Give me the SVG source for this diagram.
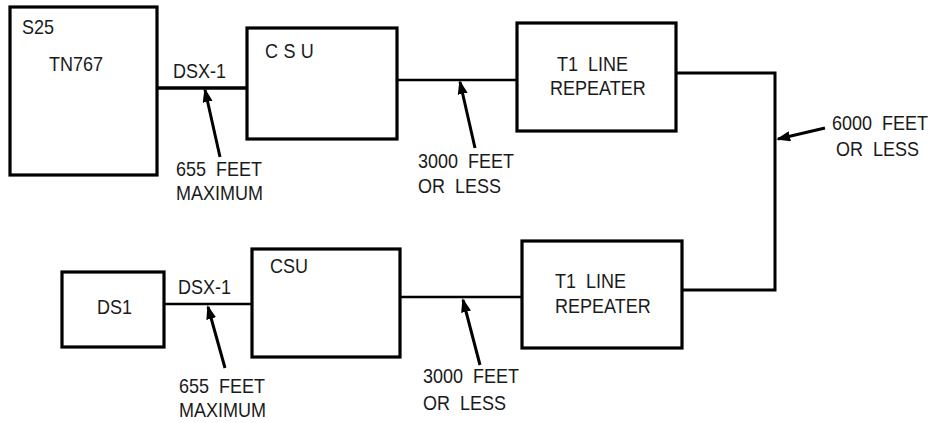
<svg xmlns="http://www.w3.org/2000/svg" width="943" height="423" viewBox="0 0 943 423">
<style>
.box{fill:none;stroke:#000;stroke-width:3.2}
.ln{fill:none;stroke:#000;stroke-width:2.6}
.ar{fill:none;stroke:#000;stroke-width:3;marker-end:url(#ah)}
text{font-family:"Liberation Sans",Arial,sans-serif;font-size:20px;fill:#1a1a1a}
</style>
<defs>
<marker id="ah" viewBox="0 0 14 10" refX="12" refY="5" markerWidth="4.7" markerHeight="3.4" orient="auto" markerUnits="strokeWidth">
<path d="M0,0 L14,5 L0,10 Z" fill="#000"/>
</marker>
</defs>
<rect width="943" height="423" fill="#fff"/>
<g id="s25">
<rect class="box" x="10" y="7" width="147" height="168"/>
<text transform="translate(22,34) scale(0.9,1)">S25</text>
<text transform="translate(49,71) scale(0.9,1)">TN767</text>
</g>
<g id="csu-top">
<rect class="box" x="247" y="28" width="150" height="111"/>
<text transform="translate(265,58) scale(0.9,1)" letter-spacing="6">CSU</text>
</g>
<g id="t1-top">
<rect class="box" x="517" y="23" width="159" height="108"/>
<text transform="translate(557,71) scale(0.9,1)" xml:space="preserve">T1  LINE</text>
<text transform="translate(550,95) scale(0.9,1)">REPEATER</text>
</g>
<g id="ds1">
<rect class="box" x="62" y="272" width="102" height="75"/>
<text transform="translate(97,314) scale(0.9,1)">DS1</text>
</g>
<g id="csu-bottom">
<rect class="box" x="252" y="249" width="148" height="108"/>
<text transform="translate(270,273) scale(0.9,1)">CSU</text>
</g>
<g id="t1-bottom">
<rect class="box" x="522" y="241" width="160" height="107"/>
<text transform="translate(555,288) scale(0.9,1)" xml:space="preserve">T1  LINE</text>
<text transform="translate(555,313) scale(0.9,1)">REPEATER</text>
</g>
<g id="connectors">
<line class="ln" x1="157" y1="88" x2="247" y2="88" style="stroke-width:3.4"/>
<line class="ln" x1="397" y1="80" x2="517" y2="80"/>
<polyline class="ln" points="676,73 775,73 775,290 682,290" style="stroke-width:3"/>
<line class="ln" x1="164" y1="304" x2="252" y2="304"/>
<line class="ln" x1="400" y1="297" x2="522" y2="297"/>
<line class="ar" x1="220" y1="157" x2="205" y2="90"/>
<line class="ar" x1="475" y1="148" x2="460" y2="82"/>
<line class="ar" x1="825" y1="128" x2="778" y2="139"/>
<line class="ar" x1="225" y1="368" x2="208" y2="307"/>
<line class="ar" x1="480" y1="365" x2="463" y2="300"/>
</g>
<g id="labels">
<text transform="translate(173,78) scale(0.9,1)">DSX-1</text>
<text transform="translate(176,176) scale(0.9,1)" xml:space="preserve">655  FEET</text>
<text transform="translate(176,200) scale(0.9,1)">MAXIMUM</text>
<text transform="translate(418,168) scale(0.9,1)" xml:space="preserve">3000  FEET</text>
<text transform="translate(418,193) scale(0.9,1)" xml:space="preserve">OR  LESS</text>
<text transform="translate(832,130) scale(0.9,1)" xml:space="preserve">6000  FEET</text>
<text transform="translate(836,156) scale(0.9,1)" xml:space="preserve">OR  LESS</text>
<text transform="translate(178,294) scale(0.9,1)">DSX-1</text>
<text transform="translate(179,393) scale(0.9,1)" xml:space="preserve">655  FEET</text>
<text transform="translate(179,417) scale(0.9,1)">MAXIMUM</text>
<text transform="translate(423,383) scale(0.9,1)" xml:space="preserve">3000  FEET</text>
<text transform="translate(423,410) scale(0.9,1)" xml:space="preserve">OR  LESS</text>
</g>
</svg>
